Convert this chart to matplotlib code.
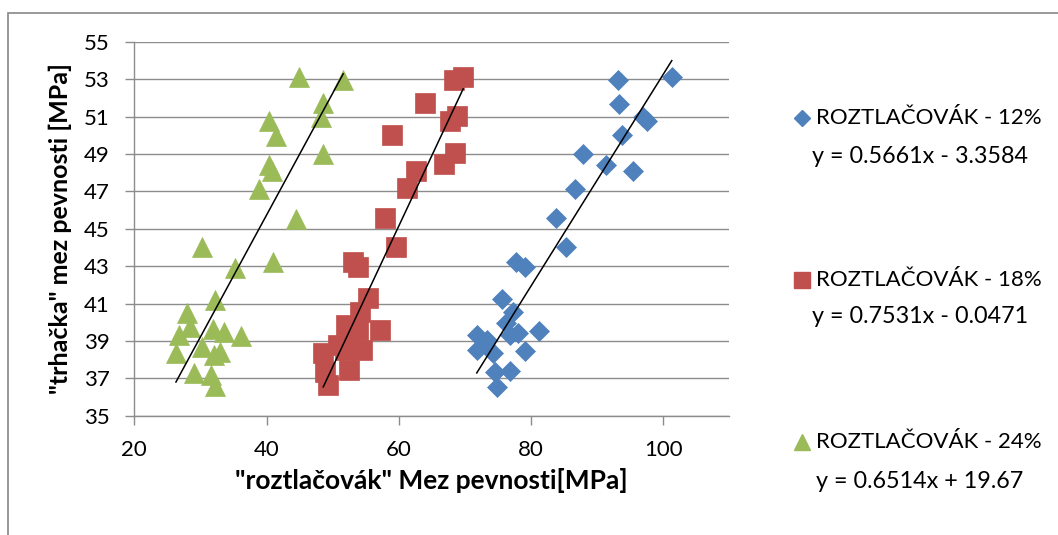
import matplotlib
matplotlib.use("Agg")
import matplotlib.pyplot as plt
from matplotlib.lines import Line2D
from matplotlib.patches import Rectangle
import numpy as np

plt.rcParams['font.family'] = ['Lato', 'DejaVu Sans']

# "roztlačovák" strength (x) vs "trhačka" strength (y), MPa
x12 = [93.2, 101.3, 93.35, 96.9, 97.6, 93.7, 87.8, 91.4, 95.4, 86.6,
       83.8, 85.3, 77.7, 79.1, 75.6, 77.3, 76.2, 81.25, 71.9, 73.3,
       76.8, 78.1, 71.8, 74.3, 79.1, 74.5, 76.8, 74.9]
y12 = [52.95, 53.13, 51.67, 50.99, 50.76, 50.0, 49.0, 48.4, 48.09, 47.1,
       45.56, 44.0, 43.24, 42.94, 41.24, 40.56, 39.94, 39.55, 39.32, 39.05,
       39.32, 39.4, 38.5, 38.34, 38.46, 37.32, 37.39, 36.55]

x18 = [68.35, 69.75, 63.96, 67.74, 68.76, 59.0, 68.5, 66.84, 62.56, 61.29,
       57.9, 59.58, 53.03, 53.78, 55.39, 54.13, 51.97, 53.87, 57.16, 50.85,
       48.58, 54.39, 51.86, 48.84, 52.51, 49.25]
y18 = [52.95, 53.13, 51.71, 50.76, 51.03, 50.0, 49.03, 48.44, 48.1, 47.16,
       45.56, 44.04, 43.24, 42.97, 41.28, 40.56, 39.85, 39.58, 39.58, 38.78,
       38.37, 38.51, 38.51, 37.35, 37.44, 36.64]

x24 = [44.9, 51.6, 48.5, 48.3, 40.3, 41.5, 48.6, 40.4, 40.8, 38.9,
       44.4, 30.2, 35.3, 41.0, 32.2, 28.0, 28.5, 26.7, 31.9, 33.5,
       36.2, 26.3, 30.2, 33.0, 32.05, 29.1, 31.6, 32.2]
y24 = [53.1, 52.95, 51.7, 51.0, 50.74, 49.97, 49.0, 48.4, 48.1, 47.1,
       45.5, 44.0, 42.9, 43.2, 41.2, 40.5, 39.76, 39.3, 39.64, 39.5,
       39.26, 38.35, 38.7, 38.4, 38.25, 37.3, 37.18, 36.57]

series_names = ["ROZTLAČOVÁK - 12%", "ROZTLAČOVÁK - 18%", "ROZTLAČOVÁK - 24%"]
slopes = [0.5661, 0.7531, 0.6514]
intercepts = [-3.3584, -0.0471, 19.67]
equations = ["y = 0.5661x - 3.3584", "y = 0.7531x - 0.0471", "y = 0.6514x + 19.67"]

x_ticks = [20, 40, 60, 80, 100]
y_ticks = [35, 37, 39, 41, 43, 45, 47, 49, 51, 53, 55]

colors = ["#4F81BD", "#C0504D", "#9BBB59"]
markers = ["D", "s", "^"]
msizes = [10.2, 14.2, 14.6]
grid_col = "#8C8C8C"

W, H = 1058, 535
fig = plt.figure(figsize=(W / 100, H / 100), dpi=100)

# chart frame
fig.add_artist(Rectangle((8 / W, -0.1), 1.2, 1 - 12.7 / H + 0.1,
                         transform=fig.transFigure, fill=False,
                         edgecolor="#888888", linewidth=1.2))

ax = fig.add_axes([134.3 / W, 1 - 415.7 / H, (729.3 - 134.3) / W, (415.7 - 41.7) / H])
ax.set_xlim(20, 110)
ax.set_ylim(35, 55)
ax.set_xticks(x_ticks)
ax.set_yticks(y_ticks)
ax.yaxis.grid(True, color=grid_col, linewidth=1.0)
ax.set_axisbelow(True)
for s in ["top", "right"]:
    ax.spines[s].set_visible(False)
for s in ["left", "bottom"]:
    ax.spines[s].set_color(grid_col)
    ax.spines[s].set_linewidth(1.0)
ax.tick_params(axis="both", colors=grid_col, length=6.5, width=1.0,
               labelsize=16, labelcolor="black", pad=11)

xs_all = [x12, x18, x24]
ys_all = [y12, y18, y24]
for xs, ys, c, m, ms in zip(xs_all, ys_all, colors, markers, msizes):
    ax.plot(xs, ys, linestyle="none", marker=m, markersize=ms,
            markerfacecolor=c, markeredgecolor=c, markeredgewidth=0.5, zorder=3)

# linear trend lines over each series' x range
for xs, k, q in zip(xs_all, slopes, intercepts):
    xr = np.array([min(xs), max(xs)])
    ax.plot(xr, k * xr + q, color="black", linewidth=1.1, zorder=4)

ax.set_xlabel('"roztlačovák" Mez pevnosti[MPa]', fontsize=19, fontweight="bold", labelpad=6)
ax.set_ylabel('"trhačka" mez pevnosti [MPa]', fontsize=18, fontweight="bold", labelpad=9)

# legend with trend-line equations
entry_y = [118.3, 280.0, 442.3]
eq_y = [156.7, 316.7, 481.7]
for name, eq, c, m, ms, ly, ey in zip(series_names, equations, colors, markers, msizes, entry_y, eq_y):
    fig.add_artist(Line2D([801.7 / W], [1 - ly / H], transform=fig.transFigure,
                          marker=m, markersize=ms * 0.78, linestyle="none",
                          markerfacecolor=c, markeredgecolor=c))
    fig.text(816 / W, 1 - ly / H, name, fontsize=16, ha="left", va="center")
    fig.text(920 / W, 1 - ey / H, eq, fontsize=16.8, ha="center", va="center")

fig.savefig("out.png", dpi=100)
